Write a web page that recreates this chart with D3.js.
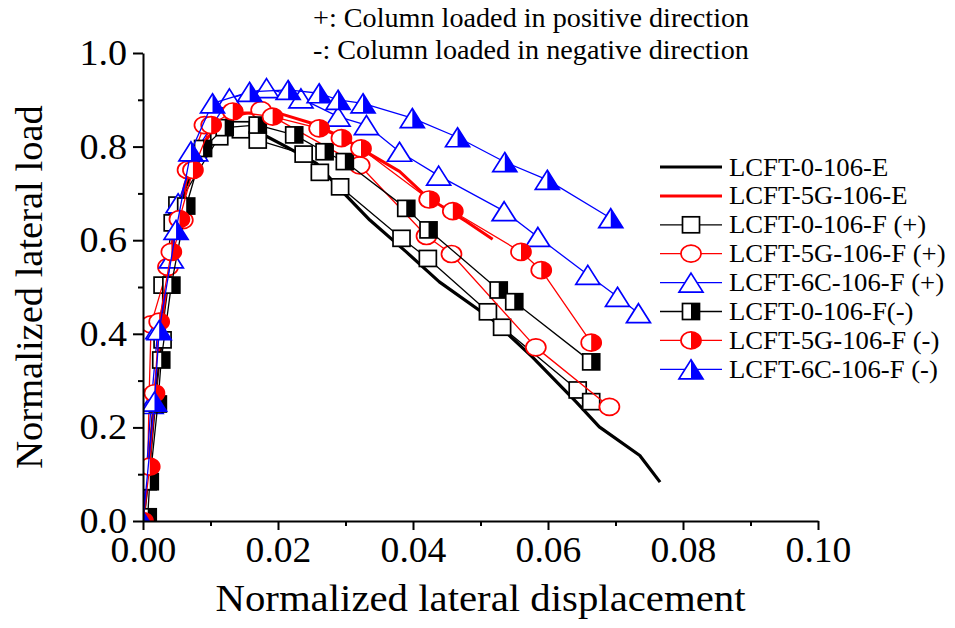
<!DOCTYPE html>
<html>
<head>
<meta charset="utf-8">
<script src="https://cdn.jsdelivr.net/npm/d3@7"></script>
<style>
  body { margin: 0; background: #fff; }
  svg { display: block; }
  text { font-family: "Liberation Serif", "Times New Roman", serif; fill: #000; }
</style>
</head>
<body>
<svg id="chart" width="955" height="628"></svg>
<script>
// Axis ticks
const xTickValues = [0, 0.02, 0.04, 0.06, 0.08, 0.10];
const xMinorValues = [0.01, 0.03, 0.05, 0.07, 0.09];
const yTickValues = [0, 0.2, 0.4, 0.6, 0.8, 1.0];
const yMinorValues = [0.1, 0.3, 0.5, 0.7, 0.9];

// Series labels (legend order)
const seriesLabels = [
  "LCFT-0-106-E", "LCFT-5G-106-E",
  "LCFT-0-106-F (+)", "LCFT-5G-106-F (+)", "LCFT-6C-106-F (+)",
  "LCFT-0-106-F(-)", "LCFT-5G-106-F (-)", "LCFT-6C-106-F (-)"
];

// [normalized lateral displacement, normalized lateral load]
const lcft0E = [[0,0],[0.0008,0.1],[0.0019,0.28],[0.0031,0.45],[0.0045,0.6],[0.0062,0.71],[0.0085,0.785],
  [0.0115,0.822],[0.015,0.832],[0.0175,0.828],[0.0212,0.80],[0.0257,0.764],[0.029,0.712],[0.0336,0.643],
  [0.039,0.575],[0.0439,0.511],[0.0518,0.43],[0.0577,0.35],[0.0642,0.254],[0.0676,0.201],[0.0736,0.14],[0.0766,0.083]];
const lcft5GE = [[0,0],[0.0008,0.11],[0.0018,0.28],[0.003,0.45],[0.0044,0.6],[0.0062,0.72],[0.0085,0.8],
  [0.0115,0.852],[0.015,0.872],[0.0202,0.871],[0.025,0.85],[0.0295,0.82],[0.0335,0.785],[0.038,0.747],
  [0.042,0.693],[0.0479,0.64],[0.0518,0.602]];
const lcft0Fpos = [[0,0],[0.0007,0.084],[0.0015,0.248],[0.0029,0.387],[0.0029,0.504],[0.0044,0.637],[0.0051,0.675],
  [0.0113,0.821],[0.0145,0.836],[0.017,0.814],[0.0238,0.784],[0.0262,0.745],[0.0292,0.714],[0.0383,0.604],
  [0.0422,0.561],[0.0511,0.447],[0.0532,0.414],[0.0644,0.28],[0.0664,0.255]];
const lcft5GFpos = [[0,0],[0.0007,0.11],[0.0009,0.265],[0.0012,0.42],[0.0037,0.543],[0.0059,0.643],[0.0066,0.75],
  [0.0091,0.846],[0.0175,0.878],[0.0321,0.76],[0.042,0.609],[0.0457,0.5705],[0.0582,0.371],[0.0691,0.244]];
const lcft6CFpos = [[0,0],[0.0012,0.25],[0.0022,0.41],[0.0042,0.561],[0.0052,0.679],[0.0078,0.79],[0.0128,0.903],
  [0.0183,0.925],[0.0234,0.903],[0.0289,0.864],[0.0331,0.846],[0.038,0.789],[0.0438,0.738],[0.0535,0.662],
  [0.0585,0.607],[0.0659,0.526],[0.0703,0.479],[0.0734,0.444]];
const lcft0Fneg = [[0,0],[0.0007,0.009],[0.001,0.084],[0.0022,0.25],[0.0027,0.344],[0.0042,0.504],[0.0064,0.673],
  [0.0089,0.796],[0.0121,0.8405],[0.017,0.846],[0.0224,0.825],[0.0269,0.789],[0.0299,0.768],[0.039,0.668],
  [0.0423,0.622],[0.0527,0.4936],[0.055,0.4686],[0.0664,0.34]];
const lcft5GFneg = [[0,0],[0.001,0.116],[0.0017,0.273],[0.0024,0.426],[0.0042,0.575],[0.0054,0.645],[0.0074,0.75],
  [0.0101,0.846],[0.0133,0.875],[0.0192,0.864],[0.0261,0.839],[0.0294,0.818],[0.0323,0.796],[0.0424,0.687],
  [0.0459,0.662],[0.056,0.575],[0.059,0.536],[0.0664,0.381]];
const lcft6CFneg = [[0,0],[0.0017,0.255],[0.0024,0.408],[0.0049,0.622],[0.0071,0.79],[0.0103,0.8925],[0.0158,0.917],
  [0.0215,0.921],[0.0261,0.914],[0.0289,0.90],[0.0326,0.8925],[0.0399,0.861],[0.0466,0.82],[0.0536,0.767],
  [0.0599,0.729],[0.0693,0.647]];

const noteLines = ["+: Column loaded in positive direction", "-: Column loaded in negative direction"];

// Drawing styles per series
const BLACK = "#000", RED = "#ff0000", BLUE = "#0000ff";
const series = [
  { label: seriesLabels[0], data: lcft0E,     color: BLACK, width: 3.2, marker: null },
  { label: seriesLabels[1], data: lcft5GE,    color: RED,   width: 3.0, marker: null },
  { label: seriesLabels[2], data: lcft0Fpos,  color: BLACK, width: 1.3, marker: "square",   half: false },
  { label: seriesLabels[3], data: lcft5GFpos, color: RED,   width: 1.3, marker: "circle",   half: false },
  { label: seriesLabels[4], data: lcft6CFpos, color: BLUE,  width: 1.3, marker: "triangle", half: false },
  { label: seriesLabels[5], data: lcft0Fneg,  color: BLACK, width: 1.3, marker: "square",   half: true },
  { label: seriesLabels[6], data: lcft5GFneg, color: RED,   width: 1.3, marker: "circle",   half: true },
  { label: seriesLabels[7], data: lcft6CFneg, color: BLUE,  width: 1.3, marker: "triangle", half: true }
];

const STRETCH = 1.06; // horizontal stretch of the lettering
const svg = d3.select("#chart");
svg.append("rect").attr("width", 955).attr("height", 628).attr("fill", "#fff");

const x = d3.scaleLinear().domain([0, 0.1]).range([143, 818]);
const y = d3.scaleLinear().domain([0, 1]).range([521, 53]);

svg.append("defs").append("clipPath").attr("id", "plotClip")
  .append("rect").attr("x", x(0)).attr("y", y(1) - 12)
  .attr("width", x(0.1) - x(0) + 12).attr("height", y(0) - y(1) + 12);

function drawMarker(g, type, half, color, cx, cy) {
  const sw = 1.7;
  if (type === "square") {
    const w = 17, h = 16;
    g.append("rect").attr("x", cx - w / 2).attr("y", cy - h / 2).attr("width", w).attr("height", h).attr("fill", "#fff");
    if (half) g.append("rect").attr("x", cx).attr("y", cy - h / 2).attr("width", w / 2).attr("height", h).attr("fill", color);
    g.append("rect").attr("x", cx - w / 2).attr("y", cy - h / 2).attr("width", w).attr("height", h)
      .attr("fill", "none").attr("stroke", color).attr("stroke-width", sw);
  } else if (type === "circle") {
    const rx = 10, ry = 8.5;
    g.append("ellipse").attr("cx", cx).attr("cy", cy).attr("rx", rx).attr("ry", ry).attr("fill", "#fff");
    if (half) g.append("path").attr("d", `M${cx},${cy - ry}A${rx},${ry} 0 0 1 ${cx},${cy + ry}Z`).attr("fill", color);
    g.append("ellipse").attr("cx", cx).attr("cy", cy).attr("rx", rx).attr("ry", ry)
      .attr("fill", "none").attr("stroke", color).attr("stroke-width", sw);
  } else if (type === "triangle") {
    const w = 24, h = 19;
    const pts = `M${cx},${cy - h / 2}L${cx + w / 2},${cy + h / 2}L${cx - w / 2},${cy + h / 2}Z`;
    g.append("path").attr("d", pts).attr("fill", "#fff");
    if (half) g.append("path").attr("d", `M${cx},${cy - h / 2}L${cx + w / 2},${cy + h / 2}L${cx},${cy + h / 2}Z`).attr("fill", color);
    g.append("path").attr("d", pts).attr("fill", "none").attr("stroke", color).attr("stroke-width", sw)
      .attr("stroke-linejoin", "miter");
  }
}

// Curves
const plot = svg.append("g").attr("clip-path", "url(#plotClip)");
const line = d3.line().x(d => x(d[0])).y(d => y(d[1]));
series.forEach(s => {
  const g = plot.append("g");
  g.append("path").datum(s.data).attr("d", line).attr("fill", "none")
    .attr("stroke", s.color).attr("stroke-width", s.width).attr("stroke-linejoin", "round");
  if (s.marker) s.data.forEach(d => drawMarker(g, s.marker, s.half, s.color, x(d[0]), y(d[1])));
});

// Axes
function styleAxis(g) {
  g.select(".domain").attr("stroke", "#000").attr("stroke-width", 2);
  g.selectAll(".tick line").attr("stroke", "#000").attr("stroke-width", 2);
}
const xAxis = svg.append("g").attr("transform", `translate(0,${y(0)})`)
  .call(d3.axisBottom(x).tickValues(xTickValues).tickSize(9).tickSizeOuter(0).tickPadding(7).tickFormat(d3.format(".2f")));
styleAxis(xAxis);
xAxis.selectAll("text").attr("font-size", 35.5).attr("font-family", "Liberation Serif, serif")
  .attr("transform", `scale(${STRETCH},1)`);
const xMinor = svg.append("g").attr("transform", `translate(0,${y(0)})`)
  .call(d3.axisBottom(x).tickValues(xMinorValues).tickSize(5).tickFormat(""));
xMinor.select(".domain").remove();
xMinor.selectAll(".tick line").attr("stroke", "#000").attr("stroke-width", 2);

const yAxis = svg.append("g").attr("transform", `translate(${x(0)},0)`)
  .call(d3.axisLeft(y).tickValues(yTickValues).tickSize(10).tickSizeOuter(0).tickPadding(5).tickFormat(d3.format(".1f")));
styleAxis(yAxis);
yAxis.selectAll("text").attr("font-size", 36).attr("font-family", "Liberation Serif, serif")
  .attr("transform", `scale(${STRETCH},1)`);
const yMinor = svg.append("g").attr("transform", `translate(${x(0)},0)`)
  .call(d3.axisLeft(y).tickValues(yMinorValues).tickSize(5).tickFormat(""));
yMinor.select(".domain").remove();
yMinor.selectAll(".tick line").attr("stroke", "#000").attr("stroke-width", 2);

// Axis titles
svg.append("text").attr("transform", `translate(${(x(0) + x(0.1)) / 2},611) scale(${STRETCH},1)`)
  .attr("text-anchor", "middle").attr("font-size", 38.5).text("Normalized lateral displacement");
svg.append("text").attr("transform", `translate(42,${(y(0) + y(1)) / 2}) rotate(-90)`)
  .attr("text-anchor", "middle").attr("font-size", 38.5).text("Normalized lateral load");

// Notes above the plot
noteLines.forEach((t, i) => {
  svg.append("text").attr("transform", `translate(313,${27 + i * 32}) scale(${STRETCH},1)`)
    .attr("font-size", 26.6).text(t);
});

// Legend
const legend = svg.append("g");
series.forEach((s, i) => {
  const ly = 167 + i * 28.9;
  const g = legend.append("g");
  g.append("line").attr("x1", 660).attr("x2", 722).attr("y1", ly).attr("y2", ly)
    .attr("stroke", s.color).attr("stroke-width", s.marker ? 1.3 : s.width);
  if (s.marker) drawMarker(g, s.marker, s.half, s.color, 691, ly);
  g.append("text").attr("transform", `translate(729,${ly + 8.5}) scale(${STRETCH},1)`)
    .attr("font-size", 25.2).text(s.label);
});
</script>
</body>
</html>
